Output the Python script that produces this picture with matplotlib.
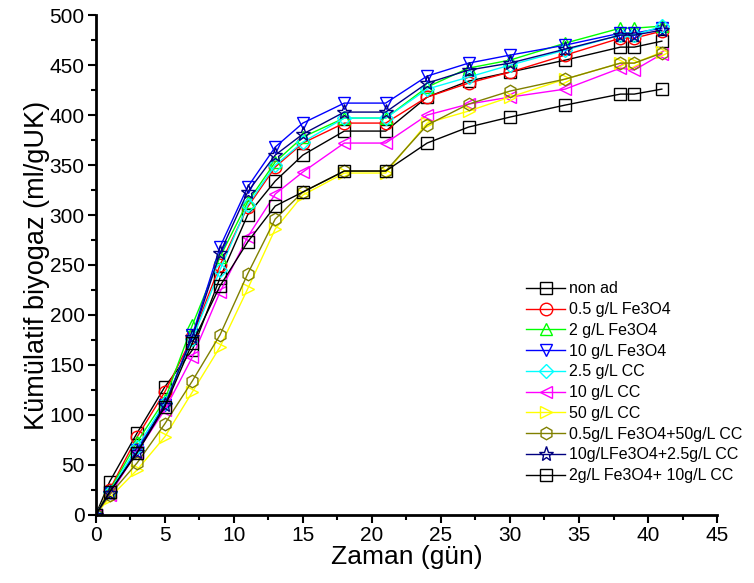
import matplotlib
matplotlib.use("Agg")
import matplotlib.pyplot as plt
from matplotlib.ticker import MultipleLocator

plt.rcParams['font.family'] = ['Liberation Sans', 'DejaVu Sans']

days = [0, 1, 3, 5, 7, 9, 11, 13, 15, 18, 21, 24, 27, 30, 34, 38, 39, 41]

non_ad = [0, 33, 82, 128, 165, 237, 300, 334, 360, 384, 384, 418, 434, 443, 455, 468, 468, 474]
fe_05 = [0, 25, 78, 123, 178, 250, 308, 348, 372, 392, 392, 418, 432, 443, 460, 477, 477, 484]
fe_2 = [0, 24, 73, 115, 190, 258, 313, 353, 378, 397, 397, 428, 447, 455, 472, 487, 487, 489]
fe_10 = [0, 22, 65, 110, 180, 268, 328, 368, 392, 412, 412, 439, 452, 460, 470, 482, 482, 487]
cc_25 = [0, 23, 68, 112, 176, 245, 310, 350, 373, 397, 397, 426, 438, 450, 465, 480, 480, 489]
cc_10 = [0, 20, 63, 105, 158, 223, 278, 321, 343, 372, 372, 400, 411, 418, 426, 447, 445, 461]
cc_50 = [0, 17, 45, 78, 123, 168, 226, 286, 320, 342, 342, 392, 404, 418, 436, 452, 452, 463]
fe05_cc50 = [0, 20, 52, 91, 134, 180, 241, 296, 323, 344, 344, 390, 411, 424, 436, 452, 452, 462]
fe10_cc25 = [0, 22, 63, 110, 178, 262, 323, 360, 381, 403, 403, 432, 445, 452, 466, 480, 480, 485]
fe2_cc10 = [0, 23, 62, 108, 172, 229, 273, 309, 323, 344, 344, 372, 388, 398, 410, 421, 421, 426]

series = [
    ("non ad", non_ad, "black", "s"),
    ("0.5 g/L Fe3O4", fe_05, "red", "o"),
    ("2 g/L Fe3O4", fe_2, "#00ff00", "^"),
    ("10 g/L Fe3O4", fe_10, "blue", "v"),
    ("2.5 g/L CC", cc_25, "cyan", "D"),
    ("10 g/L CC", cc_10, "magenta", "<"),
    ("50 g/L CC", cc_50, "yellow", ">"),
    ("0.5g/L Fe3O4+50g/L CC", fe05_cc50, "#808000", "h"),
    ("10g/LFe3O4+2.5g/L CC", fe10_cc25, "#000080", "*"),
    ("2g/L Fe3O4+ 10g/L CC", fe2_cc10, "black", "s"),
]

fig = plt.figure(figsize=(7.54, 5.83), dpi=100)
ax = fig.add_axes([0.127, 0.117, 0.824, 0.857])

for label, vals, col, mk in series:
    ms = 9
    if mk == "D":
        ms = 7
    if mk == "*":
        ms = 11
    ax.plot(days, vals, color=col, lw=1, marker=mk, markersize=ms,
            markerfacecolor="none", markeredgecolor=col, markeredgewidth=1,
            label=label)

ax.set_xlim(0, 45)
ax.set_ylim(0, 500)
ax.xaxis.set_major_locator(MultipleLocator(5))
ax.xaxis.set_minor_locator(MultipleLocator(2.5))
ax.yaxis.set_major_locator(MultipleLocator(50))
ax.yaxis.set_minor_locator(MultipleLocator(25))

for s in ["top", "right"]:
    ax.spines[s].set_visible(False)
for s in ["left", "bottom"]:
    ax.spines[s].set_linewidth(2)

ax.tick_params(which="major", direction="out", length=6, width=1.5, labelsize=15, pad=2)
ax.tick_params(which="minor", direction="out", length=3.5, width=1.5)

ax.set_xlabel("Zaman (gün)", fontsize=19, labelpad=0)
ax.set_ylabel("Kümülatif biyogaz (ml/gUK)", fontsize=19.5, labelpad=0)

ax.legend(loc="upper left", bbox_to_anchor=(0.679, 0.542), bbox_transform=fig.transFigure,
          frameon=False, fontsize=11.5, handlelength=2.4, labelspacing=0.36,
          handletextpad=0.25)

fig.savefig("out.png", dpi=100)
